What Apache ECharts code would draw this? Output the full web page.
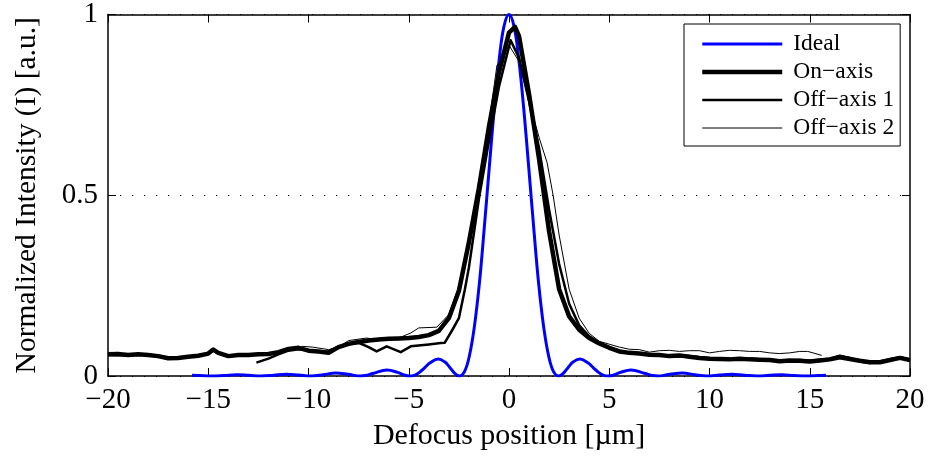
<!DOCTYPE html>
<html>
<head>
<meta charset="utf-8">
<script src="https://cdn.jsdelivr.net/npm/echarts@6/dist/echarts.min.js"></script>
<style>
  html, body { margin: 0; padding: 0; background: #fff; }
  #chart { width: 934px; height: 459px; }
</style>
</head>
<body>
<div id="chart"></div>
<script>
// legend names
const seriesNames = ['Ideal', 'On\u2212axis', 'Off\u2212axis 1', 'Off\u2212axis 2'];

// [defocus position (um), normalized intensity]
const ideal = [
  [-15.81, 0.0022], [-15.44, 0.0013], [-14.82, 0], [-14.20, 0.0015], [-13.59, 0.0034],
  [-12.97, 0.0018], [-12.35, 0], [-11.73, 0.0023], [-11.12, 0.0050], [-10.50, 0.0028],
  [-9.88, 0], [-9.26, 0.0036], [-8.65, 0.0083], [-8.03, 0.0048], [-7.41, 0],
  [-7.16, 0.0012], [-6.79, 0.0067], [-6.08, 0.0165], [-5.56, 0.0100], [-5.19, 0.0022],
  [-4.94, 0], [-4.69, 0.0027], [-4.45, 0.0108], [-4.20, 0.0230], [-3.95, 0.0358],
  [-3.53, 0.0472], [-3.21, 0.0392], [-2.96, 0.0243], [-2.72, 0.0080], [-2.47, 0],
  [-2.22, 0.0119], [-1.98, 0.0547], [-1.73, 0.1353], [-1.48, 0.2546], [-1.24, 0.4053],
  [-0.99, 0.5728], [-0.74, 0.7368], [-0.49, 0.8751], [-0.25, 0.9675], [0, 1],
  [0.25, 0.9675], [0.49, 0.8751], [0.74, 0.7368], [0.99, 0.5728], [1.24, 0.4053],
  [1.48, 0.2546], [1.73, 0.1353], [1.98, 0.0547], [2.22, 0.0119], [2.47, 0],
  [2.72, 0.0080], [2.96, 0.0243], [3.21, 0.0392], [3.53, 0.0472], [3.95, 0.0358],
  [4.20, 0.0230], [4.45, 0.0108], [4.69, 0.0027], [4.94, 0], [5.19, 0.0022],
  [5.56, 0.0100], [6.08, 0.0165], [6.79, 0.0067], [7.16, 0.0012], [7.41, 0],
  [8.03, 0.0048], [8.65, 0.0083], [9.26, 0.0036], [9.88, 0], [10.50, 0.0028],
  [11.12, 0.0050], [11.73, 0.0023], [12.35, 0], [12.97, 0.0018], [13.59, 0.0034],
  [14.20, 0.0015], [14.82, 0], [15.44, 0.0013], [15.81, 0.0022]
];

const onAxis = [
  [-20, 0.060], [-19.5, 0.061], [-19, 0.058], [-18.5, 0.060], [-18, 0.058], [-17.5, 0.055],
  [-17, 0.049], [-16.5, 0.050], [-16, 0.053], [-15.5, 0.056], [-15, 0.062], [-14.75, 0.073],
  [-14.5, 0.064], [-14, 0.055], [-13.5, 0.058], [-13, 0.058], [-12.5, 0.060], [-12, 0.061],
  [-11.5, 0.066], [-11, 0.075], [-10.5, 0.078], [-10, 0.070], [-9.5, 0.068], [-9, 0.064],
  [-8.5, 0.080], [-8, 0.089], [-7.5, 0.094], [-7, 0.098], [-6.5, 0.101], [-6, 0.103],
  [-5.5, 0.104], [-5, 0.105], [-4.5, 0.108], [-4, 0.113], [-3.5, 0.125], [-3, 0.160],
  [-2.5, 0.235], [-2, 0.37], [-1.5, 0.52], [-1, 0.69], [-0.5, 0.84], [0, 0.95],
  [0.3, 0.966], [0.5, 0.94], [1, 0.78], [1.5, 0.60], [2, 0.40], [2.5, 0.24],
  [3, 0.165], [3.5, 0.128], [4, 0.105], [4.5, 0.090], [5, 0.078], [5.5, 0.068],
  [6, 0.064], [6.5, 0.062], [7, 0.059], [7.5, 0.058], [8, 0.055], [8.5, 0.057],
  [9, 0.053], [9.5, 0.050], [10, 0.048], [10.5, 0.047], [11, 0.046], [11.5, 0.048],
  [12, 0.046], [12.5, 0.045], [13, 0.044], [13.5, 0.041], [14, 0.043], [14.5, 0.042],
  [15, 0.040], [15.5, 0.043], [16, 0.046], [16.5, 0.052], [17, 0.047], [17.5, 0.042],
  [18, 0.038], [18.5, 0.038], [19, 0.044], [19.5, 0.050], [20, 0.044]
];

const offAxis1 = [
  [-12.6, 0.037], [-12, 0.048], [-11.5, 0.060], [-11, 0.070], [-10.5, 0.074], [-10, 0.072],
  [-9.5, 0.068], [-9, 0.068], [-8.5, 0.082], [-8, 0.088], [-7.5, 0.092], [-7, 0.080],
  [-6.6, 0.068], [-6.1, 0.082], [-5.4, 0.066], [-4.9, 0.082], [-4, 0.087], [-3.4, 0.091],
  [-3.2, 0.092], [-2.8, 0.13], [-2.5, 0.16], [-2.2, 0.24], [-2, 0.30], [-1.5, 0.49],
  [-1, 0.65], [-0.5, 0.80], [0.08, 0.929], [0.5, 0.88], [1, 0.76], [1.5, 0.63],
  [2, 0.46], [2.5, 0.31], [3, 0.20], [3.5, 0.14], [4, 0.11], [4.5, 0.092],
  [5, 0.080], [5.5, 0.070], [6, 0.065], [6.5, 0.062], [7, 0.060], [7.5, 0.058],
  [8, 0.056], [8.5, 0.054], [9, 0.055], [9.5, 0.052], [10, 0.050], [10.5, 0.049],
  [11, 0.047], [11.5, 0.047], [12, 0.048], [12.5, 0.046], [13, 0.045], [13.5, 0.043],
  [14, 0.043], [14.5, 0.044], [15, 0.042], [15.5, 0.045], [16, 0.048], [16.5, 0.056],
  [17, 0.050], [17.5, 0.040], [18, 0.036], [18.5, 0.040], [19, 0.047], [19.5, 0.052],
  [20, 0.046]
];

const offAxis2 = [
  [-20, 0.056], [-19, 0.055], [-18, 0.057], [-17, 0.052], [-16, 0.055], [-15, 0.060],
  [-14.75, 0.068], [-14.5, 0.060], [-14, 0.057], [-13, 0.058], [-12, 0.060], [-11, 0.070],
  [-10.3, 0.082], [-9.8, 0.080], [-9, 0.073], [-8.5, 0.080], [-8, 0.098], [-7.1, 0.105],
  [-6.5, 0.100], [-6, 0.102], [-5.5, 0.105], [-4.9, 0.119], [-4.5, 0.133], [-3.6, 0.135],
  [-3, 0.17], [-2.5, 0.25], [-2, 0.38], [-1.5, 0.53], [-1, 0.70], [-0.6, 0.86],
  [-0.4, 0.87], [0, 0.915], [0.5, 0.87], [1, 0.76], [1.5, 0.66], [1.9, 0.59],
  [2.2, 0.50], [2.5, 0.39], [3, 0.24], [3.5, 0.16], [4, 0.118], [4.5, 0.096],
  [5, 0.088], [5.5, 0.080], [6, 0.074], [6.5, 0.073], [7, 0.066], [7.5, 0.070],
  [8, 0.071], [8.5, 0.068], [9, 0.070], [9.5, 0.070], [10, 0.064], [10.5, 0.068],
  [11, 0.071], [11.5, 0.070], [12, 0.068], [12.5, 0.068], [13, 0.064], [13.5, 0.062],
  [14, 0.064], [14.5, 0.068], [14.9, 0.068], [15.6, 0.057]
];

const FONT = 'Liberation Serif';
const widths = [3, 4.5, 2.5, 1];
const colors = ['#0000ff', '#000', '#000', '#000'];
const seriesData = [ideal, onAxis, offAxis1, offAxis2];

const chart = echarts.init(document.getElementById('chart'));

const axisLineStyle = { color: '#000', width: 1.5 };
const tickStyle = { show: true, inside: true, length: 8, lineStyle: { color: '#000', width: 1 } };

chart.setOption({
  animation: false,
  backgroundColor: '#fff',
  textStyle: { fontFamily: FONT, color: '#000' },
  grid: { left: 108, right: 24, top: 10, bottom: 83 },
  legend: {
    orient: 'vertical',
    left: 684,
    top: 24,
    data: seriesNames.map((n, i) => ({
      name: n,
      lineStyle: { width: widths[i], color: colors[i] }
    })),
    itemWidth: 80,
    itemHeight: 14,
    itemGap: 4,
    padding: [8, 6, 6, 16],
    borderColor: '#000',
    borderWidth: 1,
    borderRadius: 0,
    backgroundColor: '#fff',
    itemStyle: { opacity: 0, borderWidth: 0 },
    textStyle: {
      fontFamily: FONT, fontSize: 23.5, color: '#000', lineHeight: 24,
      padding: [0, 0, 0, 6]
    }
  },
  xAxis: [
    {
      type: 'value',
      min: -20,
      max: 20,
      interval: 5,
      name: 'Defocus position [\u00b5m]',
      nameLocation: 'middle',
      nameGap: 45,
      nameTextStyle: { fontFamily: FONT, fontSize: 30, color: '#000' },
      axisLine: { show: true, onZero: false, lineStyle: axisLineStyle },
      axisTick: tickStyle,
      axisLabel: {
        fontFamily: FONT, fontSize: 29, color: '#000', margin: 10,
        formatter: v => String(v).replace('-', '\u2212')
      },
      splitLine: { show: false }
    },
    {
      type: 'value',
      position: 'top',
      min: -20,
      max: 20,
      interval: 5,
      axisLine: { show: true, onZero: false, lineStyle: axisLineStyle },
      axisTick: tickStyle,
      axisLabel: { show: false },
      splitLine: { show: false }
    }
  ],
  yAxis: [
    {
      type: 'value',
      min: 0,
      max: 1,
      interval: 0.5,
      name: 'Normalized Intensity (I) [a.u.]',
      nameLocation: 'middle',
      nameGap: 66,
      nameTextStyle: { fontFamily: FONT, fontSize: 29.5, color: '#000' },
      axisLine: { show: true, onZero: false, lineStyle: axisLineStyle },
      axisTick: tickStyle,
      axisLabel: { fontFamily: FONT, fontSize: 29, color: '#000', margin: 10 },
      splitLine: { show: true, lineStyle: { color: '#000', type: [1.2, 10.8], width: 1 } }
    },
    {
      type: 'value',
      position: 'right',
      min: 0,
      max: 1,
      interval: 0.5,
      axisLine: { show: true, onZero: false, lineStyle: axisLineStyle },
      axisTick: tickStyle,
      axisLabel: { show: false },
      splitLine: { show: false }
    }
  ],
  series: seriesData.map((d, i) => ({
    name: seriesNames[i],
    type: 'line',
    data: d,
    smooth: i === 0 ? 0.4 : false,
    showSymbol: false,
    symbol: 'none',
    lineStyle: { color: colors[i], width: widths[i], join: 'round' },
    itemStyle: { color: colors[i] }
  }))
});
</script>
</body>
</html>
